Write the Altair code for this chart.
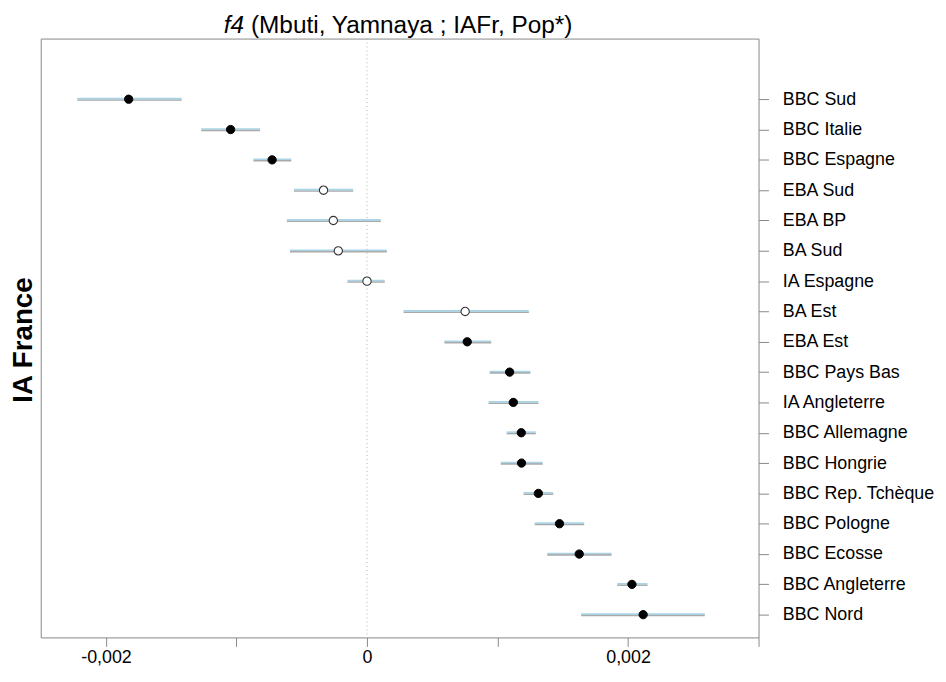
import altair as alt
import pandas as pd

POPS = ["BBC Sud", "BBC Italie", "BBC Espagne", "EBA Sud", "EBA BP", "BA Sud",
        "IA Espagne", "BA Est", "EBA Est", "BBC Pays Bas", "IA Angleterre",
        "BBC Allemagne", "BBC Hongrie", "BBC Rep. Tchèque", "BBC Pologne",
        "BBC Ecosse", "BBC Angleterre", "BBC Nord"]
EST = [-0.001826, -0.001045, -0.000727, -0.000333, -0.000258, -0.000220,
       0.000000, 0.000752, 0.000768, 0.001093, 0.001121, 0.001182, 0.001184,
       0.001313, 0.001475, 0.001626, 0.002030, 0.002116]
LO = [-0.002220, -0.001270, -0.000870, -0.000560, -0.000614, -0.000590,
      -0.000150, 0.000280, 0.000593, 0.000940, 0.000932, 0.001070, 0.001025,
      0.001200, 0.001285, 0.001381, 0.001917, 0.001641]
HI = [-0.001420, -0.000820, -0.000580, -0.000106, 0.000106, 0.000152,
      0.000136, 0.001240, 0.000952, 0.001252, 0.001313, 0.001293, 0.001346,
      0.001427, 0.001664, 0.001874, 0.002149, 0.002588]
SIG = [True, True, True, False, False, False, False, False, True, True, True,
       True, True, True, True, True, True, True]

XTICKS = [-0.002, -0.001, 0.0, 0.001, 0.002, 0.003]
XTICK_LABELS = ["-0,002", "", "0", "", "0,002", ""]
ZERO = [0.0]

TITLE_ITALIC = "f4"
TITLE_REST = "(Mbuti, Yamnaya ; IAFr, Pop*)"
YTITLE = "IA France"

FONT = "Liberation Sans"

df = pd.DataFrame({"idx": list(range(len(POPS))), "pop": POPS, "est": EST,
                   "lo": LO, "hi": HI, "sig": SIG})

x_scale = alt.Scale(domain=[-0.0025, 0.003], nice=False, zero=False)
y_scale = alt.Scale(domain=[-2, 17.75], reverse=True, nice=False, zero=False)

xlabel_expr = "[" + ",".join(f"'{t}'" for t in XTICK_LABELS) + "][round(datum.value*1000)+2]"
ylabel_expr = "[" + ",".join(f"'{p}'" for p in POPS) + "][round(datum.value)]"

x_axis = alt.Axis(values=XTICKS, labelExpr=xlabel_expr, tickSize=9, tickColor="#888888",
                  labelFontSize=18, labelColor="#000000", labelPadding=2, domain=False,
                  grid=False, title=None, labelFont=FONT, labelFlush=False)
y_axis = alt.Axis(orient="right", values=list(range(len(POPS))), labelExpr=ylabel_expr,
                  tickSize=10, tickColor="#888888", labelFontSize=18, labelColor="#000000",
                  labelPadding=14, domain=False, grid=False, title=None, labelFont=FONT,
                  labelAlign="left", labelBaseline="middle")

base = alt.Chart(df)

zero_line = alt.Chart(pd.DataFrame({"x": ZERO})).mark_rule(
    color="#b0b0b0", strokeDash=[1, 3], strokeWidth=1
).encode(x=alt.X("x:Q", scale=x_scale, axis=x_axis))

rule_gray = base.mark_rule(color="#a9a9a9", strokeWidth=1.6, yOffset=0.8).encode(
    x=alt.X("lo:Q", scale=x_scale, axis=x_axis), x2="hi:Q",
    y=alt.Y("idx:Q", scale=y_scale, axis=y_axis))
rule_blue = base.mark_rule(color="#a9d3e6", strokeWidth=1.6, yOffset=-0.6).encode(
    x=alt.X("lo:Q", scale=x_scale, axis=x_axis), x2="hi:Q",
    y=alt.Y("idx:Q", scale=y_scale, axis=y_axis))

pts_filled = base.transform_filter("datum.sig").mark_point(
    shape="circle", filled=True, fill="#000000", stroke="#000000", strokeWidth=1,
    size=70, opacity=1
).encode(x=alt.X("est:Q", scale=x_scale, axis=x_axis),
         y=alt.Y("idx:Q", scale=y_scale, axis=y_axis))
pts_open = base.transform_filter("!datum.sig").mark_point(
    shape="circle", filled=True, fill="#ffffff", stroke="#333333", strokeWidth=1.1,
    size=70, opacity=1
).encode(x=alt.X("est:Q", scale=x_scale, axis=x_axis),
         y=alt.Y("idx:Q", scale=y_scale, axis=y_axis))

t1 = alt.Chart(pd.DataFrame({"t": [TITLE_ITALIC]})).mark_text(
    font=FONT, fontSize=24.6, fontStyle="italic", align="right", baseline="alphabetic",
    color="#000000"
).encode(text="t:N", x=alt.value(205), y=alt.value(-6))
t2 = alt.Chart(pd.DataFrame({"t": [TITLE_REST]})).mark_text(
    font=FONT, fontSize=24.6, align="left", baseline="alphabetic", color="#000000"
).encode(text="t:N", x=alt.value(212), y=alt.value(-6))
t3 = alt.Chart(pd.DataFrame({"t": [YTITLE]})).mark_text(
    font=FONT, fontSize=28, fontWeight="bold", angle=270, align="center",
    baseline="middle", color="#000000"
).encode(text="t:N", x=alt.value(-17), y=alt.value(304))

chart = alt.layer(zero_line, rule_gray, rule_blue, pts_filled, pts_open, t1, t2, t3).properties(
    width=724, height=604,
    padding={"left": 33, "top": 28, "right": 181, "bottom": 28},
    autosize=alt.AutoSizeParams(type="none"),
    background="#ffffff",
).configure_view(stroke="#888888", strokeWidth=1)

chart.save("out.html", embed_options={"renderer": "svg", "actions": False})
